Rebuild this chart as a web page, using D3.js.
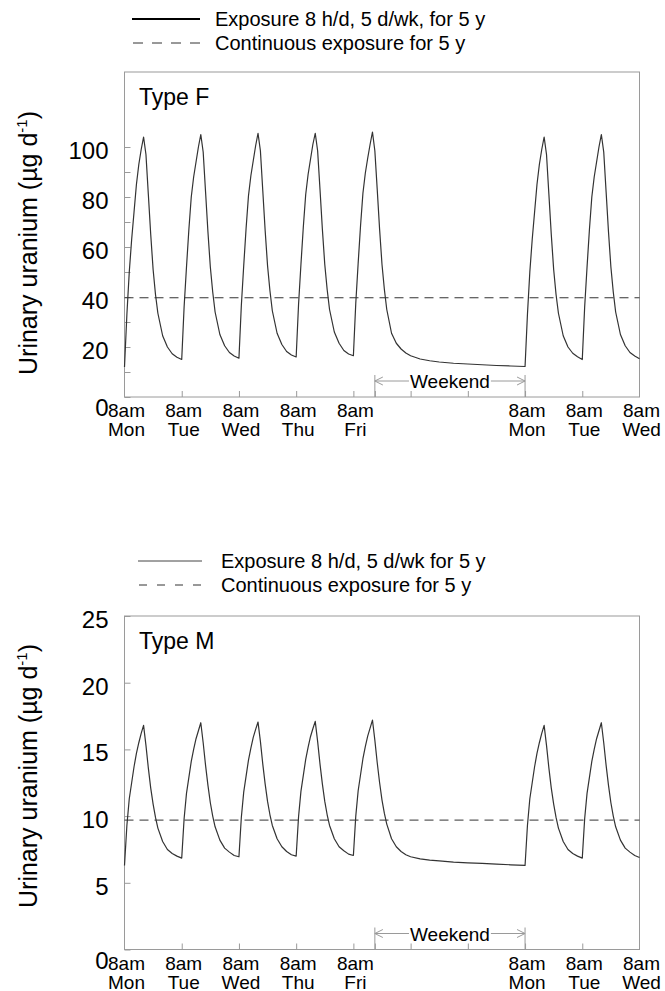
<!DOCTYPE html>
<html>
<head>
<meta charset="utf-8">
<script src="https://cdn.jsdelivr.net/npm/d3@7"></script>
<style>
  body { margin: 0; background: #fff; }
  svg text { font-family: "Liberation Sans", Arial, sans-serif; fill: #000; }
</style>
</head>
<body>
<div id="chart"></div>
<script>
// hours after 8am Monday
const hours = [
  0, 1, 2, 3, 4, 5, 6, 7, 8, 9, 10, 11, 12, 13, 14, 16, 18, 20, 22,
  24, 25, 26, 27, 28, 29, 30, 31, 32, 33, 34, 35, 36, 37, 38, 40, 42, 44, 46,
  48, 49, 50, 51, 52, 53, 54, 55, 56, 57, 58, 59, 60, 61, 62, 64, 66, 68, 70,
  72, 73, 74, 75, 76, 77, 78, 79, 80, 81, 82, 83, 84, 85, 86, 88, 90, 92, 94,
  96, 97, 98, 99, 100, 101, 102, 103, 104, 105, 106, 107, 108, 109, 110,
  112, 114, 116, 118, 120, 124, 128, 132, 138, 144, 150, 156, 162,
  168, 169, 170, 171, 172, 173, 174, 175, 176, 177, 178, 179, 180, 181, 182, 184, 186, 188, 190,
  192, 193, 194, 195, 196, 197, 198, 199, 200, 201, 202, 203, 204, 205, 206, 208, 210, 212, 214, 216
];

// Type F urinary uranium, ug/d
const typeF = [
  12, 33, 50, 63, 74, 85, 93, 99, 104, 97, 81, 65, 51, 41, 33.5, 24.5, 20, 17.3, 15.9,
  15, 36, 52, 67, 80, 88, 94, 100, 105, 98, 82, 66, 52, 42, 34, 25, 20.5, 17.8, 16.4,
  15.5, 36.5, 52.5, 67.5, 80.5, 88.5, 94.5, 100.5, 105.5, 98.5, 82.5, 66.5, 52.5, 42.5, 34.5, 25.5, 21, 18.2, 16.8,
  16, 37, 53, 68, 81, 89, 95, 101, 105.5, 98.5, 83, 67, 53, 43, 35, 26, 21.5, 18.6, 17.2,
  16.5, 37.5, 53.5, 68.5, 81.5, 89.5, 95.5, 101, 106, 98.5, 83, 67, 53, 43, 35,
  25.5, 21.5, 19.2, 17.6, 16.5, 15.2, 14.5, 14, 13.5, 13.2, 12.9, 12.6, 12.4,
  12.2, 33, 50, 63, 74, 85, 93, 99, 104, 97, 81, 65, 51, 41, 33.5, 24.5, 20, 17.5, 16.1,
  15, 36, 52, 67, 80, 88, 94, 100, 105, 98, 82, 66, 52, 42, 34, 25, 20.5, 17.8, 16.4, 15.3
];

// Type M urinary uranium, ug/d
const typeM = [
  6.3, 9.3, 11.3, 12.5, 13.7, 14.7, 15.5, 16.2, 16.8, 15.3, 13.6, 12.1, 10.9, 9.9, 9.1, 8.1, 7.5, 7.2, 7.0,
  6.85, 9.8, 11.7, 12.9, 14.1, 15.0, 15.8, 16.4, 17.0, 15.5, 13.8, 12.3, 11.0, 10.0, 9.2, 8.2, 7.6, 7.3, 7.05,
  6.95, 9.9, 11.8, 13.0, 14.2, 15.1, 15.9, 16.5, 17.05, 15.6, 13.9, 12.4, 11.1, 10.1, 9.3, 8.3, 7.7, 7.35, 7.1,
  7.0, 9.95, 11.85, 13.05, 14.25, 15.15, 15.95, 16.55, 17.1, 15.6, 13.9, 12.4, 11.1, 10.1, 9.3, 8.3, 7.7, 7.4, 7.15,
  7.05, 10.0, 11.9, 13.1, 14.3, 15.2, 16.0, 16.6, 17.2, 15.7, 14.0, 12.5, 11.2, 10.2, 9.4,
  8.3, 7.7, 7.35, 7.1, 6.95, 6.8, 6.7, 6.65, 6.55, 6.5, 6.45, 6.4, 6.35,
  6.3, 9.3, 11.3, 12.5, 13.7, 14.7, 15.5, 16.2, 16.8, 15.3, 13.6, 12.1, 10.9, 9.9, 9.1, 8.1, 7.5, 7.2, 7.0,
  6.85, 9.8, 11.7, 12.9, 14.1, 15.0, 15.8, 16.4, 17.0, 15.5, 13.8, 12.3, 11.0, 10.0, 9.2, 8.2, 7.6, 7.3, 7.05, 6.9
];

const continuousF = 39.7;
const continuousM = 9.7;

const tickHours = [24, 48, 72, 96, 105, 120, 144, 168, 192];
const labelHours = [0, 24, 48, 72, 96, 168, 192, 216];
const dayNames = ["Mon", "Tue", "Wed", "Thu", "Fri", "Mon", "Tue", "Wed"];
const weekendHours = [105, 168];

const yTicksF = [0, 20, 40, 60, 80, 100];
const yMinorF = [10, 30, 50, 70, 90];
const yTicksM = [0, 5, 10, 15, 20, 25];

const legendF = ["Exposure 8 h/d, 5 d/wk, for 5 y", "Continuous exposure for 5 y"];
const legendM = ["Exposure 8 h/d, 5 d/wk for 5 y", "Continuous exposure for 5 y"];

const svg = d3.select("#chart").append("svg")
  .attr("width", 665)
  .attr("height", 991);

const x = d3.scaleLinear().domain([0, 216]).range([124.5, 639.5]);
const frameColor = "#9a9a9a";

function drawPanel(p) {
  const y = d3.scaleLinear().domain([0, p.ymax]).range([p.bottom, p.top]);
  const g = svg.append("g");

  // legend
  const lg = g.append("g");
  lg.append("line")
    .attr("x1", p.legX[0]).attr("x2", p.legX[1])
    .attr("y1", p.legY[0]).attr("y2", p.legY[0])
    .attr("stroke", p.legSolidColor).attr("stroke-width", p.legSolidWidth);
  lg.append("line")
    .attr("x1", p.legX[0] + 1).attr("x2", p.legX[1])
    .attr("y1", p.legY[1]).attr("y2", p.legY[1])
    .attr("stroke", "#333").attr("stroke-width", 1)
    .attr("stroke-dasharray", p.legDash);
  p.legend.forEach((t, i) => {
    lg.append("text")
      .attr("x", p.legTextX)
      .attr("y", p.legY[i] + 7)
      .attr("font-size", "20px")
      .text(t);
  });

  // frame
  g.append("rect")
    .attr("x", x(0)).attr("y", p.top)
    .attr("width", x(216) - x(0)).attr("height", p.bottom - p.top)
    .attr("fill", "none").attr("stroke", frameColor).attr("stroke-width", 1);

  // y axis
  const yAxis = g.append("g")
    .attr("transform", `translate(${x(0)},0)`)
    .call(d3.axisLeft(y).tickValues(p.yTicks).tickSize(-6).tickPadding(16));
  if (p.yMinor.length) {
    g.append("g")
      .attr("transform", `translate(${x(0)},0)`)
      .call(d3.axisLeft(y).tickValues(p.yMinor).tickSize(-6).tickFormat(""))
      .call(a => a.select(".domain").remove())
      .call(a => a.selectAll("line").attr("stroke", frameColor));
  }
  yAxis.select(".domain").remove();
  yAxis.selectAll("line").attr("stroke", frameColor);
  yAxis.selectAll("text")
    .attr("font-size", "24px")
    .attr("font-family", "Liberation Sans, Arial, sans-serif")
    .attr("fill", "#000")
    .attr("dy", d => d === 0 ? "0.78em" : "0.48em");

  // x axis ticks (inward)
  const xAxis = g.append("g")
    .attr("transform", `translate(0,${p.bottom})`)
    .call(d3.axisBottom(x).tickValues(tickHours).tickSize(-6).tickFormat(""));
  xAxis.select(".domain").remove();
  xAxis.selectAll("line").attr("stroke", frameColor);

  // x labels, two lines
  const lab = g.append("g").selectAll("text")
    .data(labelHours)
    .join("text")
    .attr("text-anchor", "middle")
    .attr("font-size", "19px");
  lab.append("tspan")
    .attr("x", d => x(d) + 2)
    .attr("y", p.bottom + 20)
    .text("8am");
  lab.append("tspan")
    .attr("x", d => x(d) + 2)
    .attr("y", p.bottom + 39)
    .text((d, i) => dayNames[i]);

  // weekend bracket
  const wy = p.bottom - 16;
  const wk = g.append("g").attr("stroke", frameColor).attr("fill", "none");
  weekendHours.forEach(h => {
    wk.append("line")
      .attr("x1", x(h)).attr("x2", x(h))
      .attr("y1", p.bottom).attr("y2", p.bottom - 22);
  });
  const wt = g.append("text")
    .attr("x", x(d3.mean(weekendHours)))
    .attr("y", wy + 7)
    .attr("text-anchor", "middle")
    .attr("font-size", "19px")
    .text("Weekend");
  const tw = wt.node().getComputedTextLength();
  const cx = x(d3.mean(weekendHours));
  const x0 = x(weekendHours[0]), x1 = x(weekendHours[1]);
  wk.append("path")
    .attr("d", `M${x0},${wy}H${cx - tw / 2 - 1}M${x0 + 8},${wy - 4}L${x0},${wy}L${x0 + 8},${wy + 4}`);
  wk.append("path")
    .attr("d", `M${cx + tw / 2 + 1},${wy}H${x1}M${x1 - 8},${wy - 4}L${x1},${wy}L${x1 - 8},${wy + 4}`);

  // continuous exposure
  g.append("line")
    .attr("x1", x(0)).attr("x2", x(216))
    .attr("y1", y(p.continuous)).attr("y2", y(p.continuous))
    .attr("stroke", "#333").attr("stroke-width", 1)
    .attr("stroke-dasharray", "9,6");

  // intermittent exposure curve
  const line = d3.line()
    .x(d => x(d[0]))
    .y(d => y(d[1]));
  g.append("path")
    .datum(hours.map((h, i) => [h, p.values[i]]))
    .attr("d", line)
    .attr("fill", "none")
    .attr("stroke", "#333")
    .attr("stroke-width", 1.2)
    .attr("stroke-linejoin", "round");

  // panel title
  g.append("text")
    .attr("x", 139).attr("y", p.top + 33)
    .attr("font-size", "23px")
    .text(p.title);

  // y title
  const yt = g.append("text")
    .attr("transform", `translate(37,${p.titleY}) rotate(-90)`)
    .attr("text-anchor", "middle")
    .attr("font-size", "25px");
  yt.append("tspan").text("Urinary uranium (µg d");
  yt.append("tspan").attr("font-size", "15px").attr("dy", "-10").text("-1");
  yt.append("tspan").attr("dy", "10").text(")");
}

drawPanel({
  top: 72, bottom: 397, ymax: 130,
  yTicks: yTicksF, yMinor: yMinorF,
  values: typeF, continuous: continuousF,
  title: "Type F", titleY: 243,
  legend: legendF, legX: [132, 200], legY: [19, 43], legTextX: 215,
  legSolidColor: "#000", legSolidWidth: 2, legDash: "10,9"
});

drawPanel({
  top: 616, bottom: 949.5, ymax: 25,
  yTicks: yTicksM, yMinor: [],
  values: typeM, continuous: continuousM,
  title: "Type M", titleY: 776,
  legend: legendM, legX: [138, 202], legY: [561, 585], legTextX: 221,
  legSolidColor: "#444", legSolidWidth: 1, legDash: "8,10"
});
</script>
</body>
</html>
